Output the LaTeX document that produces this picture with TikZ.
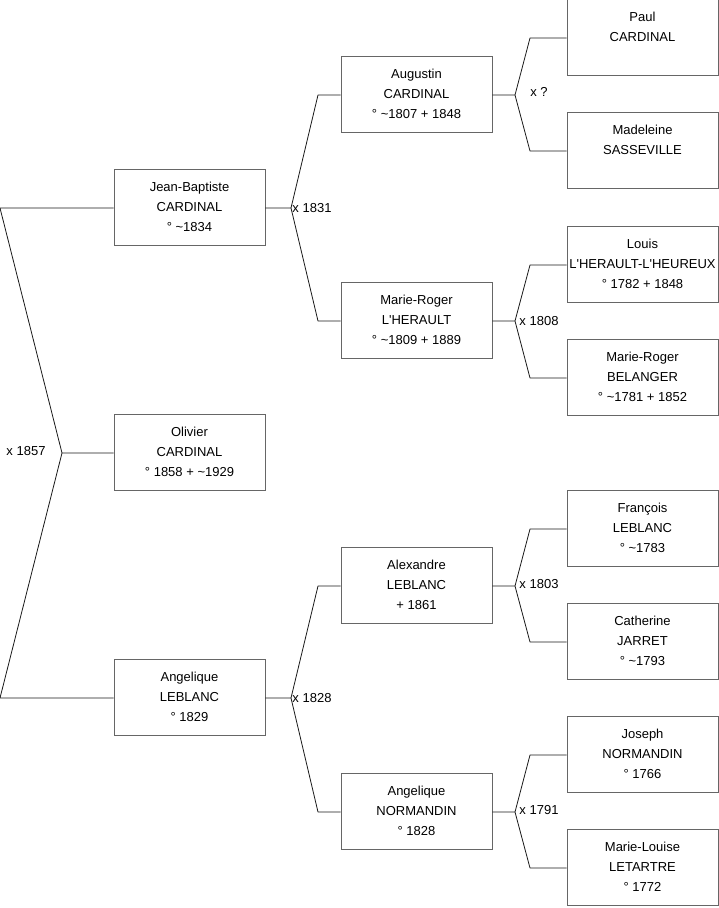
\documentclass[tikz,border=0pt]{standalone}
\usepackage{fontspec}
\setmainfont{Liberation Sans}
\providecommand{\treeBoxColor}{black!60}
\providecommand{\treeLineColor}{black!90}
\providecommand{\treeLineWidth}{0.8pt}
\providecommand{\ap}{\textquotesingle}
\tikzset{
  person/.style={draw=\treeBoxColor, line width=\treeLineWidth, fill=white,
    minimum width=151pt, minimum height=76pt, inner sep=0pt, align=center,
    font=\fontsize{13}{20}\selectfont},
  union/.style={inner sep=0pt, font=\fontsize{13}{16}\selectfont},
  link/.style={draw=\treeLineColor, line width=\treeLineWidth, line join=round}
}
\begin{document}
\begin{tikzpicture}[x=1pt, y=-1pt]
% Canvas
\useasboundingbox (0,0) rectangle (719,908);
% Generation 1
\node[person] (jeanbaptiste) at (189.5,207) {Jean-Baptiste\\CARDINAL\\° \textasciitilde1834};
\node[person] (olivier) at (189.5,452) {Olivier\\CARDINAL\\° 1858 + \textasciitilde1929};
\node[person] (angeliqueL) at (189.5,697) {Angelique\\LEBLANC\\° 1829};
% Generation 2
\node[person] (augustin) at (416.5,94) {Augustin\\CARDINAL\\° \textasciitilde1807 + 1848};
\node[person] (marierogerL) at (416.5,320) {Marie-Roger\\L\ap HERAULT\\° \textasciitilde1809 + 1889};
\node[person] (alexandre) at (416.5,585) {Alexandre\\LEBLANC\\+ 1861};
\node[person] (angeliqueN) at (416.5,811) {Angelique\\NORMANDIN\\° 1828};
% Generation 3
\node[person] (paul) at (642.5,37) {Paul\\CARDINAL\\\mbox{}};
\node[person] (madeleine) at (642.5,150) {Madeleine\\SASSEVILLE\\\mbox{}};
\node[person] (louis) at (642.5,264) {Louis\\L\ap HERAULT-L\ap HEUREUX\\° 1782 + 1848};
\node[person] (marierogerB) at (642.5,377) {Marie-Roger\\BELANGER\\° \textasciitilde1781 + 1852};
\node[person] (francois) at (642.5,528) {François\\LEBLANC\\° \textasciitilde1783};
\node[person] (catherine) at (642.5,641) {Catherine\\JARRET\\° \textasciitilde1793};
\node[person] (joseph) at (642.5,754) {Joseph\\NORMANDIN\\° 1766};
\node[person] (marielouise) at (642.5,867) {Marie-Louise\\LETARTRE\\° 1772};
% Junction points
\coordinate (olivierJ) at (62,453);
\coordinate (olivierT) at (0,208);
\coordinate (olivierB) at (0,698);
\coordinate (jeanbaptisteJ) at (291,208);
\coordinate (jeanbaptisteT) at (318,95);
\coordinate (jeanbaptisteB) at (318,321);
\coordinate (angeliqueLJ) at (291,698);
\coordinate (angeliqueLT) at (318,586);
\coordinate (angeliqueLB) at (318,812);
\coordinate (augustinJ) at (515,95);
\coordinate (augustinT) at (530,38);
\coordinate (augustinB) at (530,151);
\coordinate (marierogerLJ) at (515,321);
\coordinate (marierogerLT) at (530,265);
\coordinate (marierogerLB) at (530,378);
\coordinate (alexandreJ) at (515,586);
\coordinate (alexandreT) at (530,529);
\coordinate (alexandreB) at (530,642);
\coordinate (angeliqueNJ) at (515,812);
\coordinate (angeliqueNT) at (530,755);
\coordinate (angeliqueNB) at (530,868);
% Parent links
\begin{scope}[link]
  \draw (olivier.west |- olivierJ) -- (olivierJ) -- (olivierT) -- (jeanbaptiste.west |- olivierT);
  \draw (olivierJ) -- (olivierB) -- (angeliqueL.west |- olivierB);
  \draw (jeanbaptiste.east |- jeanbaptisteJ) -- (jeanbaptisteJ) -- (jeanbaptisteT) -- (augustin.west |- jeanbaptisteT);
  \draw (jeanbaptisteJ) -- (jeanbaptisteB) -- (marierogerL.west |- jeanbaptisteB);
  \draw (angeliqueL.east |- angeliqueLJ) -- (angeliqueLJ) -- (angeliqueLT) -- (alexandre.west |- angeliqueLT);
  \draw (angeliqueLJ) -- (angeliqueLB) -- (angeliqueN.west |- angeliqueLB);
  \draw (augustin.east |- augustinJ) -- (augustinJ) -- (augustinT) -- (paul.west |- augustinT);
  \draw (augustinJ) -- (augustinB) -- (madeleine.west |- augustinB);
  \draw (marierogerL.east |- marierogerLJ) -- (marierogerLJ) -- (marierogerLT) -- (louis.west |- marierogerLT);
  \draw (marierogerLJ) -- (marierogerLB) -- (marierogerB.west |- marierogerLB);
  \draw (alexandre.east |- alexandreJ) -- (alexandreJ) -- (alexandreT) -- (francois.west |- alexandreT);
  \draw (alexandreJ) -- (alexandreB) -- (catherine.west |- alexandreB);
  \draw (angeliqueN.east |- angeliqueNJ) -- (angeliqueNJ) -- (angeliqueNT) -- (joseph.west |- angeliqueNT);
  \draw (angeliqueNJ) -- (angeliqueNB) -- (marielouise.west |- angeliqueNB);
\end{scope}
% Marriage labels
\node[union] (m1857) at (26,451) {x 1857};
\node[union] (m1831) at (312,208) {x 1831};
\node[union] (m1828) at (312,698) {x 1828};
\node[union] (mUnknown) at (539,92) {x ?};
\node[union] (m1808) at (539,321) {x 1808};
\node[union] (m1803) at (539,584) {x 1803};
\node[union] (m1791) at (539,810) {x 1791};
\end{tikzpicture}
\end{document}
